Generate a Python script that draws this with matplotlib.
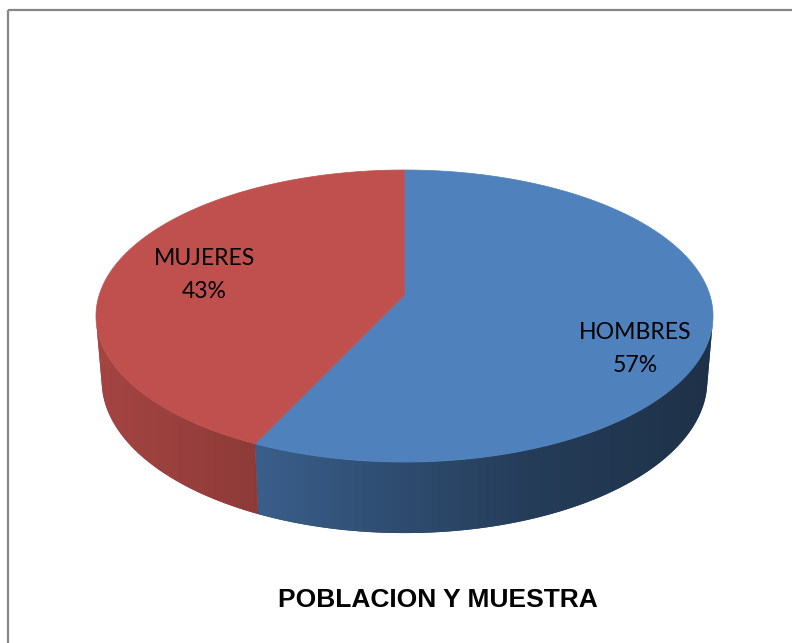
import numpy as np
import matplotlib
matplotlib.use("Agg")
import matplotlib.pyplot as plt
from matplotlib.patches import Polygon

# ---- data ----
categories = ["HOMBRES", "MUJERES"]
values = [57, 43]
colors = ["#4F81BD", "#C0504D"]
title = "POBLACION Y MUESTRA"

# ---- figure in pixel coordinates ----
W, Hpx = 792, 643
fig = plt.figure(figsize=(W / 100, Hpx / 100), dpi=100)
ax = fig.add_axes([0, 0, 1, 1])
ax.set_xlim(0, W)
ax.set_ylim(Hpx, 0)
ax.axis("off")

# ---- perspective camera for the 3D pie ----
elev = np.radians(27.93)
D = 6.135          # camera distance (pie radius = 1)
THICK = 0.2416     # pie thickness
K = 1873.0         # projection scale (px)
CX, CY = 404.5, 295.0   # projected pie centre (px)
ce, se = np.cos(elev), np.sin(elev)


def proj(t, y):
    X = np.cos(t)
    Z = np.sin(t)
    depth = D - y * se - Z * ce
    xc = X / depth
    yc = (y * ce - Z * se) / depth
    return CX + K * xc, CY - K * yc


def hex2rgb(h):
    h = h.lstrip("#")
    return np.array([int(h[i:i + 2], 16) for i in (0, 2, 4)]) / 255.0


# slice angles: clockwise from 12 o'clock
fr = np.array(values, dtype=float) / np.sum(values)
theta_edges = np.concatenate([[0], np.cumsum(fr)]) * 2 * np.pi
t_edges = theta_edges - np.pi / 2       # t=-90deg back, t=+90deg front

# visible wall range (silhouette of the perspective cylinder)
ts1 = np.arcsin(1.0 / (D * ce))
ts2 = np.pi - ts1

# side shading by horizontal position
shade_x = [96, 253, 400, 530, 713]
shade_f = [0.86, 0.74, 0.59, 0.47, 0.38]
xs = np.arange(W) + 0.5
fac = np.interp(xs, shade_x, shade_f)

for i in range(len(values)):
    a = max(t_edges[i], ts1)
    b = min(t_edges[i + 1], ts2)
    if b <= a:
        continue
    ts = np.linspace(a, b, 300)
    tx, ty = proj(ts, 0.0)
    bx, by = proj(ts[::-1], -THICK)
    pts = list(zip(tx, ty)) + list(zip(bx, by))
    base = hex2rgb(colors[i])
    grad = np.clip(fac[None, :, None] * base[None, None, :], 0, 1)
    grad = np.repeat(grad, 2, axis=0)
    mean_col = np.clip(base * np.interp(np.mean(tx), shade_x, shade_f), 0, 1)
    under = Polygon(pts, closed=True, facecolor=mean_col, edgecolor="none",
                    linewidth=0)
    ax.add_patch(under)
    clip = Polygon(pts, closed=True, facecolor="none", edgecolor="none",
                   transform=ax.transData)
    ax.add_patch(clip)
    im = ax.imshow(grad, extent=(0, W, Hpx, 0), interpolation="bilinear",
                   aspect="auto", zorder=1)
    im.set_clip_path(clip)

ax.set_xlim(0, W)
ax.set_ylim(Hpx, 0)

# top faces
for i in range(len(values)):
    ts = np.linspace(t_edges[i], t_edges[i + 1], 400)
    px, py = proj(ts, 0.0)
    pts = [(CX, CY)] + list(zip(px, py))
    ax.add_patch(Polygon(pts, closed=True, facecolor=colors[i],
                         edgecolor=colors[i], linewidth=0.5, zorder=2))

# labels
label_pos = [(635.5, 339), (204, 265)]
pct = np.round(fr * 100).astype(int)
for (lx, ly), cat, p in zip(label_pos, categories, pct):
    ax.text(lx, ly, cat, ha="center", va="baseline", fontsize=16.6,
            family="Lato", color="#000000", zorder=3)
    ax.text(lx, ly + 33, f"{p}%", ha="center", va="baseline", fontsize=16.6,
            family="Lato", color="#000000", zorder=3)

# title
ax.text(437.5, 607, title, ha="center", va="baseline", fontsize=19,
        family="Liberation Sans", fontweight="bold", color="#000000")

# chart border (top and left visible)
ax.plot([8, 8], [Hpx + 5, 9.5], color="#878787", lw=1.6, clip_on=False,
        solid_capstyle="butt")
ax.plot([8, W + 5], [9.5, 9.5], color="#878787", lw=1.6, clip_on=False,
        solid_capstyle="butt")

fig.savefig("out.png", dpi=100, facecolor="white")
